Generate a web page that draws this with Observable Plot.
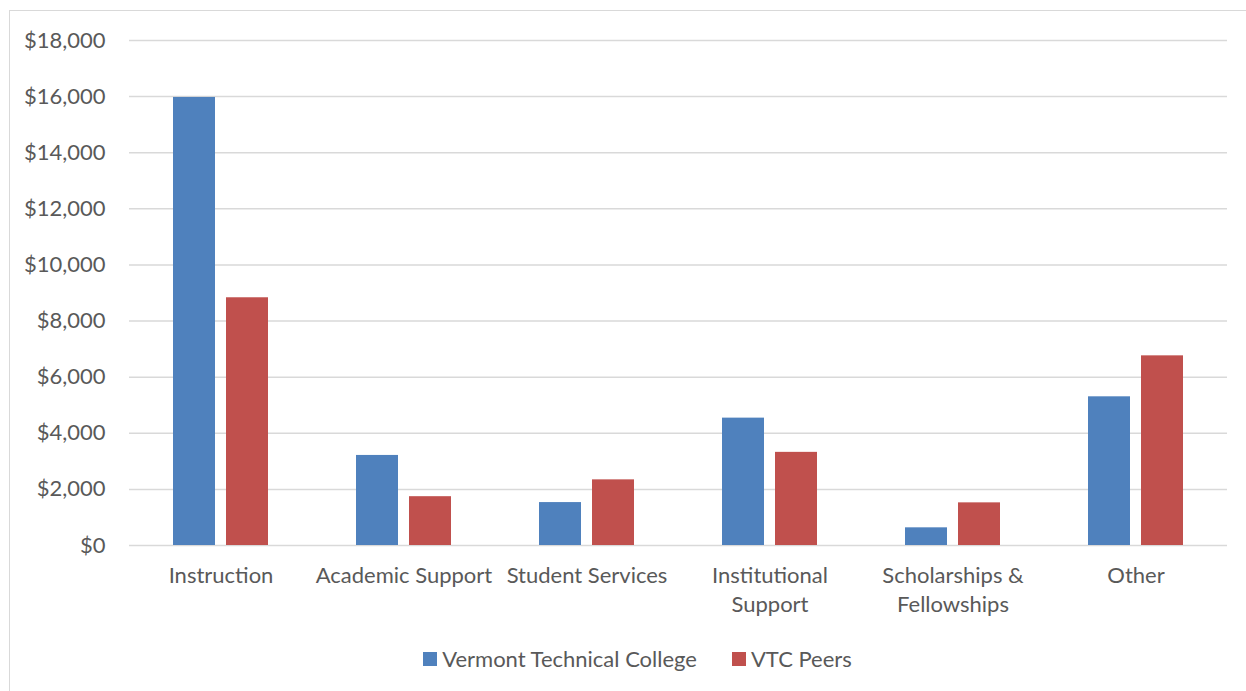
<!DOCTYPE html>
<html>
<head>
<meta charset="utf-8">
<script src="https://cdn.jsdelivr.net/npm/d3@7"></script>
<script src="https://cdn.jsdelivr.net/npm/@observablehq/plot@0.6"></script>
<style>
  html, body { margin: 0; padding: 0; background: #fff; overflow: hidden; width: 1246px; height: 691px; }
  #frame { position: absolute; left: 9px; top: 10px; width: 1400px; height: 900px; border-left: 1.5px solid #d9d9d9; border-top: 1.5px solid #d9d9d9; box-sizing: border-box; }
  #chart { position: absolute; left: 0; top: 0; }
  #legend { position: absolute; left: 0; top: 645px; width: 1275px; display: flex; justify-content: center; align-items: center;
            font-family: Lato, sans-serif; font-size: 22px; color: #595959; }
  .item { display: flex; align-items: center; }
  .sw { width: 14px; height: 14px; margin-right: 5px; }
  .item + .item { margin-left: 35px; }
</style>
</head>
<body>
<div id="frame"></div>
<div id="chart"></div>
<div id="legend"></div>
<script>
const categories = ["Instruction", "Academic Support", "Student Services", "Institutional Support", "Scholarships & Fellowships", "Other"];
const categoryLabels = ["Instruction", "Academic Support", "Student Services", "Institutional\nSupport", "Scholarships &\nFellowships", "Other"];
const seriesNames = ["Vermont Technical College", "VTC Peers"];
const vtcValues = [15970, 3210, 1530, 4540, 630, 5300];
const peerValues = [8830, 1740, 2340, 3320, 1520, 6760];
const yTicks = [0, 2000, 4000, 6000, 8000, 10000, 12000, 14000, 16000, 18000];
const seriesColors = ["#4F81BD", "#C0504D"];

const data = [];
categories.forEach((c, i) => {
  data.push({category: c, series: seriesNames[0], value: vtcValues[i]});
  data.push({category: c, series: seriesNames[1], value: peerValues[i]});
});
const labelOf = new Map(categories.map((c, i) => [c, categoryLabels[i]]));
const font = "Lato, sans-serif";

const chart = Plot.plot({
  width: 1246,
  height: 630,
  marginLeft: 128,
  marginRight: 18,
  marginTop: 40,
  marginBottom: 85,
  style: {fontFamily: font, background: "transparent"},
  fx: {domain: categories, padding: 0, label: null},
  x: {domain: seriesNames, paddingInner: 0.21, paddingOuter: 0.82, axis: null},
  y: {domain: [0, 18000], label: null},
  color: {domain: seriesNames, range: seriesColors},
  marks: [
    Plot.gridY(yTicks, {stroke: "#d9d9d9", strokeOpacity: 1, strokeWidth: 1.5}),
    Plot.barY(data, {fx: "category", x: "series", y: "value", fill: "series"}),
    Plot.axisY({ticks: yTicks, tickSize: 0, tickPadding: 24, tickFormat: d => "$" + d3.format(",")(d),
                fontSize: 22, fill: "#595959", label: null}),
    Plot.axisFx({anchor: "bottom", tickSize: 0, tickPadding: 17, tickFormat: d => labelOf.get(d),
                 fontSize: 22, fill: "#595959", lineHeight: 1.32, label: null})
  ]
});
document.getElementById("chart").appendChild(chart);

const legend = document.getElementById("legend");
seriesNames.forEach((s, i) => {
  const item = document.createElement("div");
  item.className = "item";
  const sw = document.createElement("div");
  sw.className = "sw";
  sw.style.background = seriesColors[i];
  const t = document.createElement("span");
  t.textContent = s;
  item.appendChild(sw);
  item.appendChild(t);
  legend.appendChild(item);
});
</script>
</body>
</html>
